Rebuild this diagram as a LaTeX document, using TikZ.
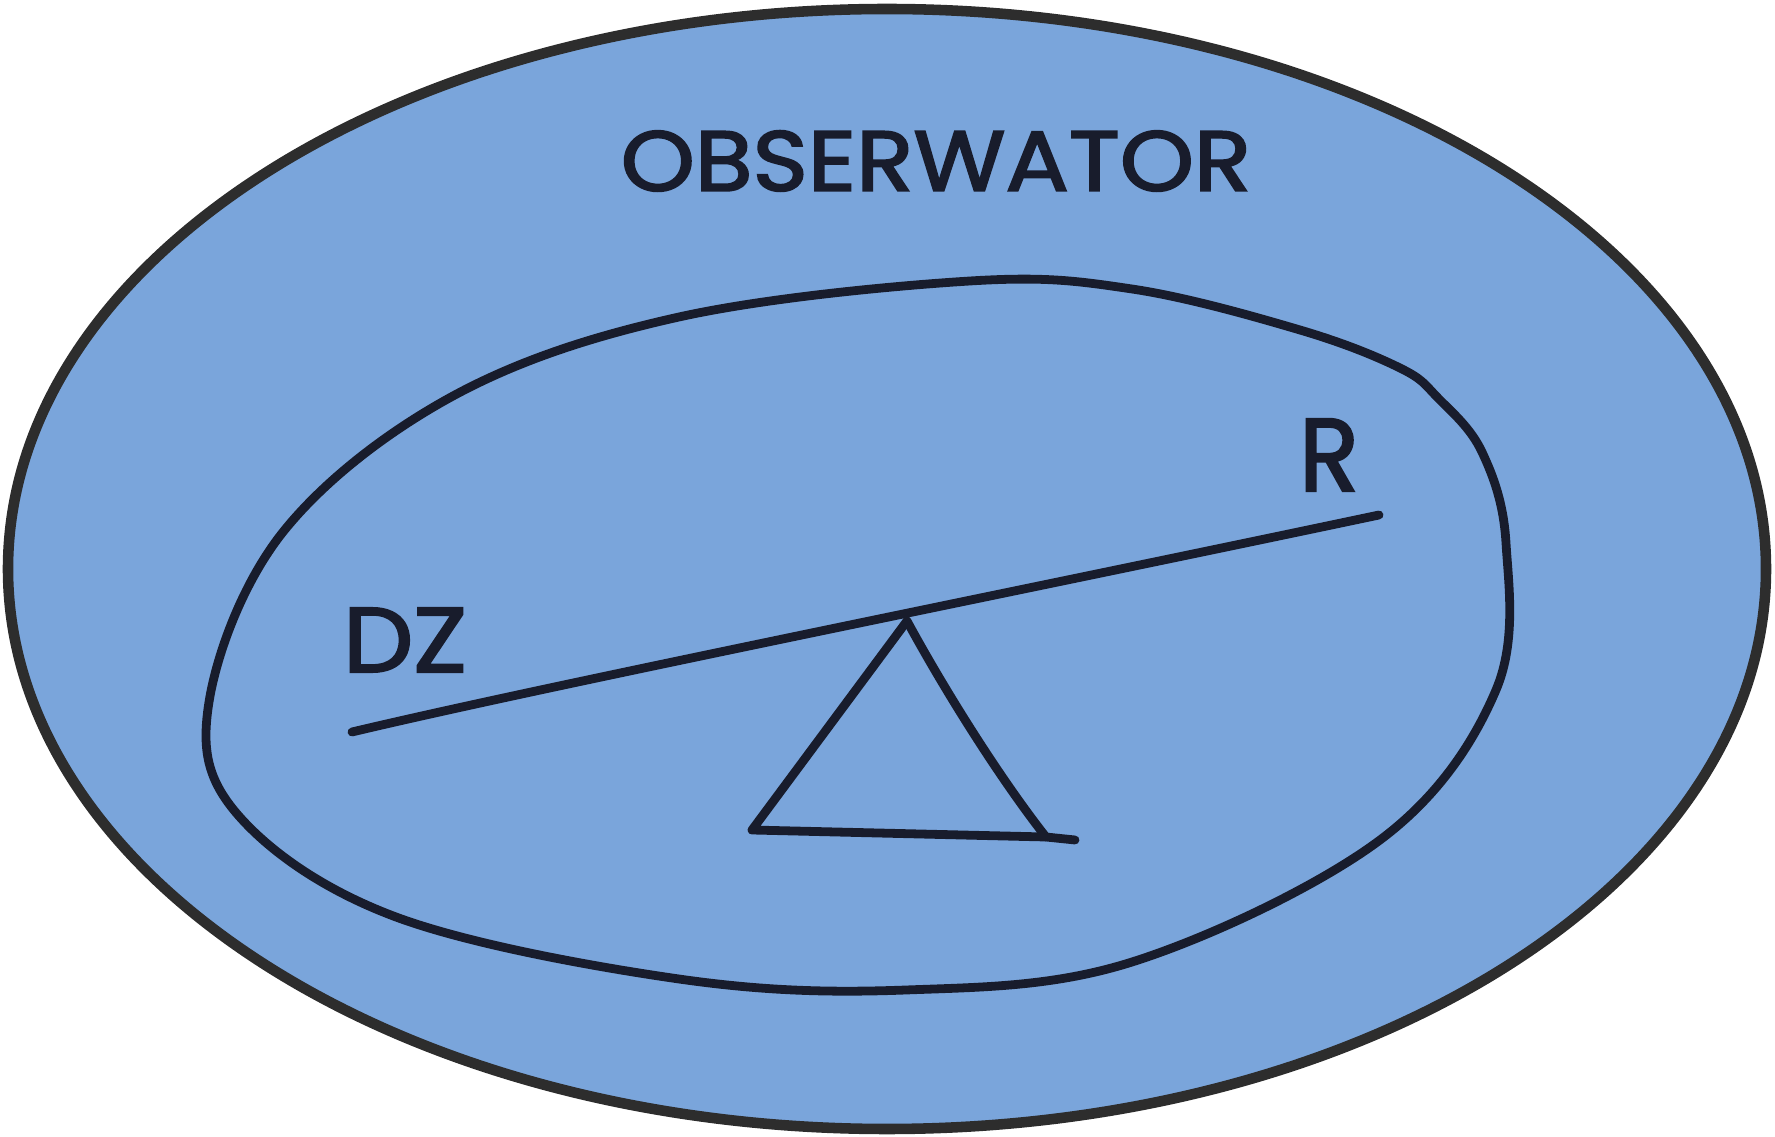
\documentclass[tikz,border=0pt]{standalone}
\usepackage{graphicx}
\usepackage{fontspec}
\setmainfont{Poppins}
\newfontfamily\handfont{Poppins}[FakeBold=2.2]
\definecolor{paper}{RGB}{122,165,219}
\definecolor{rim}{RGB}{45,45,45}
\definecolor{ink}{RGB}{24,28,44}
\tikzset{
  inkline/.style={draw=ink, line width=2.5pt, line cap=round, line join=round},
  label/.style={text=ink, inner sep=0pt, font=\handfont}
}
\begin{document}
\begin{tikzpicture}[x=0.01cm,y=-0.01cm]
\useasboundingbox (0,0) rectangle (1775,1137);
% outer ellipse
\draw[fill=paper, draw=rim, line width=3pt] (887,569) ellipse [x radius=879, y radius=560];
% inner closed curve
\draw[inkline] plot[smooth cycle, tension=0.6] coordinates {
  (970,281) (1132,289) (1300,330) (1400,368) (1438,398) (1482,452) (1506,543)
  (1496,690) (1380,840) (1132,962) (906,990) (679,979) (396,917) (238,815)
  (209,702) (283,532) (453,396) (679,317)};
% labels
\node[label] (obs) at (936,161) {\resizebox{6.3cm}{0.6cm}{OBSERWATOR}};
\node[label] (dz) at (405,640) {\resizebox{1.24cm}{0.64cm}{DZ}};
\node[label] (r) at (1329,455) {\resizebox{0.6cm}{0.72cm}{R}};
% seesaw
\coordinate (bl) at (352,732);
\coordinate (br) at (1379,515);
\draw[inkline] (bl) .. controls (550,685) and (1000,595) .. (br);
\coordinate (apex) at (907,621);
\coordinate (tl) at (752,830);
\coordinate (tr) at (1046,837);
\coordinate (tx) at (1075,840);
\draw[inkline] (apex) -- (tl) -- (tr) -- (tx);
\draw[inkline] (apex) .. controls (950,700) and (1005,785) .. (tr);
\end{tikzpicture}
\end{document}
